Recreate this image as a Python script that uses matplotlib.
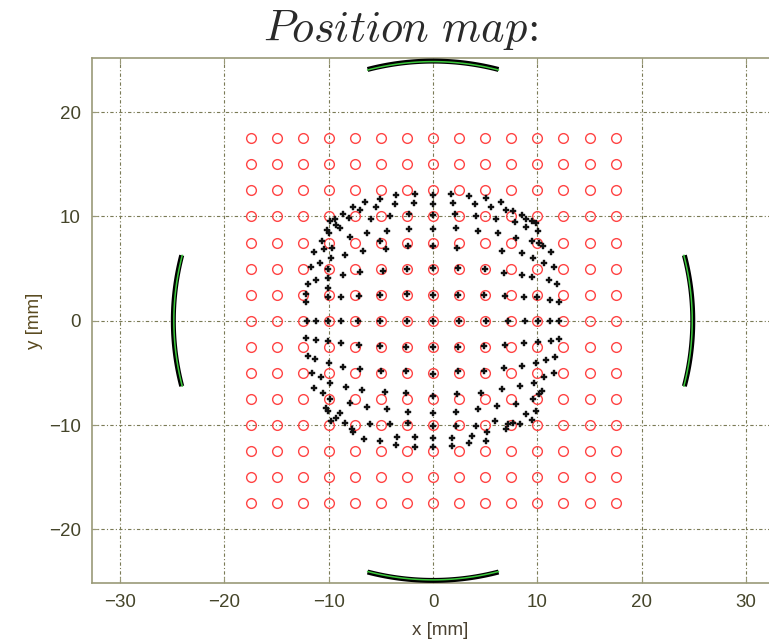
import numpy as np
import matplotlib
matplotlib.use("Agg")
import matplotlib.pyplot as plt

plt.rcParams['mathtext.fontset'] = 'cm'
plt.rcParams['font.family'] = ['Liberation Sans', 'DejaVu Sans']
plt.rcParams['savefig.bbox'] = 'standard'

# Grid of source positions (red circles)
grid_vals = [-17.5, -15, -12.5, -10, -7.5, -5, -2.5, 0, 2.5, 5, 7.5, 10, 12.5, 15, 17.5]

# Reconstructed positions (black dots)
axis_pos = [2.5, 5.1, 7.2, 8.8, 10.1, 11.2, 12.1]
axis_x = [0.0] + axis_pos + [-v for v in axis_pos] + [0.0] * 14
axis_y = [0.0] + [0.0] * 14 + axis_pos + [-v for v in axis_pos]

tl_x = [-3.58, -1.76, -5.05, -6.55, -3.67, -1.85, -7.67, -7.03, -5.50, -8.63, -8.05, -9.42, -5.97, -4.15, -2.30,
        -9.84, -9.27, -8.88, -10.16, -9.97, -6.33, -4.41, -2.30, -10.61, -7.99, -5.05, -4.54, -2.40, -10.48, -6.71,
        -11.44, -9.74, -8.47, -9.65, -10.86, -11.66, -10.06, -4.79, -2.49, -7.03, -8.63, -11.25, -11.98, -10.06,
        -10.06, -12.14, -7.09, -5.11, -2.49, -8.79, -10.06, -12.14]
tl_y = [12.08, 12.14, 11.69, 11.37, 11.18, 11.28, 10.86, 10.64, 10.86, 10.22, 9.90, 9.78, 9.78, 10.0, 10.2,
        9.52, 9.20, 8.88, 8.72, 8.40, 8.40, 8.63, 8.82, 7.67, 7.99, 7.60, 6.90, 7.12, 6.90, 6.71,
        6.58, 6.01, 6.26, 6.96, 5.53, 5.11, 4.98, 4.79, 4.98, 4.66, 4.41, 3.93, 3.51, 4.09,
        3.13, 2.56, 2.33, 2.49, 2.56, 2.24, 2.24, 1.79]

tr_x = [1.69, 3.45, 5.05, 1.92, 4.03, 6.49, 5.53, 6.96, 7.67, 2.11, 4.09, 6.01, 8.56, 8.88, 7.86, 9.46, 9.84,
        2.24, 4.35, 6.26, 8.88, 10.10, 7.99, 9.46, 10.16, 2.33, 6.58, 10.54, 11.28, 8.56, 9.58, 10.64, 11.60,
        4.98, 2.43, 6.81, 8.56, 9.46, 11.12, 11.92, 2.43, 4.89, 6.90, 8.72, 10.0, 11.18, 12.08]
tr_y = [12.14, 12.01, 11.76, 11.28, 11.18, 11.37, 10.86, 10.64, 10.48, 10.22, 10.0, 9.78, 10.10, 9.78, 9.46, 9.52, 9.36,
        8.88, 8.63, 8.40, 8.95, 8.56, 7.92, 7.67, 7.44, 6.96, 6.71, 7.12, 6.58, 6.49, 6.01, 5.53, 5.11,
        4.98, 5.05, 4.57, 4.41, 4.15, 3.93, 3.51, 2.49, 2.43, 2.33, 2.24, 2.24, 2.01, 1.79]

bl_x = [-12.14, -11.25, -10.06, -8.79, -7.09, -5.05, -2.56, -11.98, -11.34, -9.97, -11.60, -10.74, -8.63, -7.03,
        -4.95, -2.56, -9.84, -8.37, -11.44, -10.54, -9.90, -6.77, -4.63, -2.56, -7.99, -10.29, -10.06, -6.33, -4.41,
        -2.40, -8.95, -9.27, -9.74, -8.47, -7.73, -7.67, -6.07, -4.15, -2.40, -6.65, -5.11, -3.58, -1.76, -3.45, -1.76]
bl_y = [-1.66, -1.85, -1.98, -2.17, -2.30, -2.40, -2.55, -3.35, -3.67, -4.09, -5.04, -5.43, -4.41, -4.63,
        -4.86, -4.86, -6.00, -6.32, -6.45, -6.96, -7.50, -6.64, -6.87, -6.96, -7.92, -8.37, -8.69, -8.24, -8.46,
        -8.78, -8.88, -9.33, -9.65, -9.84, -10.38, -10.70, -9.90, -9.90, -9.84, -11.34, -11.56, -11.88, -12.07, -11.12, -11.12]

br_x = [2.43, 4.89, 6.90, 8.72, 10.10, 11.28, 12.08, 2.43, 4.89, 6.81, 8.56, 9.84, 10.80, 11.70, 2.33, 4.57, 6.58,
        8.31, 9.68, 10.64, 11.60, 2.17, 4.35, 6.17, 7.92, 9.58, 10.16, 10.48, 8.88, 9.46, 9.84, 1.85, 1.79, 3.77,
        3.45, 5.05, 5.21, 4.15, 5.94, 6.96, 7.22, 7.67, 8.31, 2.17]
br_y = [-2.56, -2.40, -2.30, -2.17, -2.07, -1.91, -1.76, -4.85, -4.85, -4.53, -4.31, -4.09, -3.77, -3.45, -7.03, -6.96, -6.55,
        -6.23, -6.00, -5.36, -5.05, -8.78, -8.46, -8.14, -7.99, -7.50, -7.03, -6.77, -8.94, -9.52, -8.62, -11.24, -11.98, -11.02,
        -11.76, -11.56, -10.70, -10.06, -9.65, -10.38, -9.90, -9.84, -9.90, -10.06]

dots_x = axis_x + tl_x + tr_x + bl_x + br_x
dots_y = axis_y + tl_y + tr_y + bl_y + br_y

# Electrodes: arcs of radius R, centred on each axis direction
arc_radius = 24.9
arc_half_angle_deg = 14.6
arc_centres_deg = [90, 180, 270, 0]

x_ticks = [-30, -20, -10, 0, 10, 20, 30]
y_ticks = [-20, -10, 0, 10, 20]

fig = plt.figure(figsize=(7.69, 6.44), dpi=100)
ax = fig.add_axes([0.1196, 0.0947, 0.9047, 0.8153])

spine_col = '#9a9a78'
tick_col = '#45452a'
grid_col = '#7a7a55'

gx, gy = np.meshgrid(grid_vals, grid_vals)
ax.plot(gx.ravel(), gy.ravel(), linestyle='none', marker='o', markersize=7,
        markerfacecolor='none', markeredgecolor='#ff4444', markeredgewidth=1.0, zorder=3)

ax.plot(dots_x, dots_y, linestyle='none', marker='P', markersize=4.5,
        color='#111111', markeredgewidth=0.3, zorder=4)

for c in arc_centres_deg:
    th = np.deg2rad(np.linspace(c - arc_half_angle_deg, c + arc_half_angle_deg, 80))
    ax.plot(arc_radius * np.cos(th), arc_radius * np.sin(th), color='black', lw=3.6,
            solid_capstyle='butt', zorder=5)
    ax.plot((arc_radius - 0.05) * np.cos(th), (arc_radius - 0.05) * np.sin(th), color='#3cc83c', lw=1.1,
            zorder=6)

ax.set_xlim(-32.7, 34.0)
ax.set_ylim(-25.15, 25.2)
ax.set_xticks(x_ticks)
ax.set_yticks(y_ticks)
ax.grid(True, color=grid_col, linestyle=(0, (3, 2, 1, 2)), linewidth=0.8)
ax.set_axisbelow(True)
for s in ax.spines.values():
    s.set_color(spine_col)
    s.set_linewidth(1.2)
ax.spines['right'].set_visible(False)
ax.tick_params(direction='in', length=4, color=spine_col, labelcolor=tick_col, labelsize=13.5,
               top=True, right=False, pad=8)
ax.set_xlabel('x [mm]', fontsize=13.5, color='#4a4030', labelpad=8)
ax.set_ylabel('y [mm]', fontsize=13.5, color='#5a4a20', labelpad=4)
fig.text(0.521, 0.953, r'$Position\ map\!:$', fontsize=32, color='#2a2a2a',
         ha='center', va='center')

fig.savefig('out.png', dpi=100)
